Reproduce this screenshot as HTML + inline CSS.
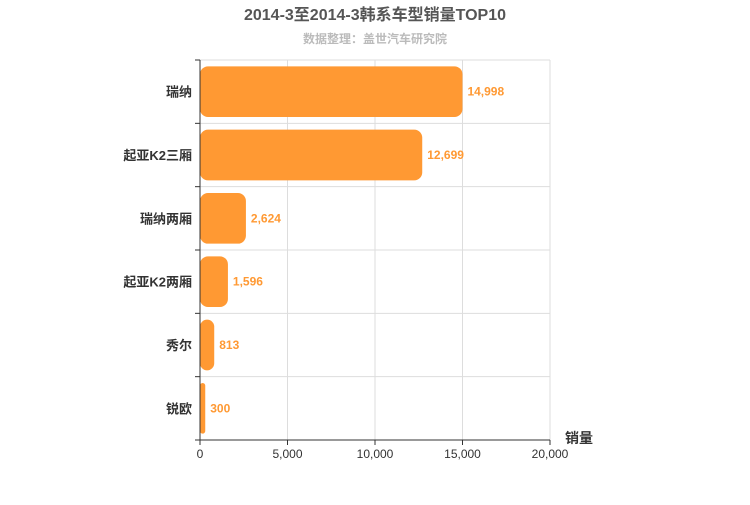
<!DOCTYPE html>
<html><head><meta charset="utf-8"><style>
body{margin:0;background:#fff;}
svg text{font-family:"Liberation Sans","Noto Sans CJK SC",sans-serif;}
</style></head><body>
<svg id="chart" width="750" height="500" viewBox="0 0 750 500">
<text x="375" y="20" text-anchor="middle" font-size="16" font-weight="bold" fill="#555">2014-3至2014-3韩系车型销量TOP10</text>
<text x="375" y="43" text-anchor="middle" font-size="12" font-weight="bold" fill="#bbb">数据整理：盖世汽车研究院</text>
<g id="grid"></g><g id="bars"></g><g id="axes"></g>
<text x="565" y="443" font-size="14" font-weight="bold" fill="#333">销量</text>
</svg>
<script>
const categories=["瑞纳","起亚K2三厢","瑞纳两厢","起亚K2两厢","秀尔","锐欧"];
const values=[14998,12699,2624,1596,813,300];
const ticks=[0,5000,10000,15000,20000];
const tickLabels=["0","5,000","10,000","15,000","20,000"];
const NS="http://www.w3.org/2000/svg";
const X0=200,X1=550,Y0=60,Y1=440,XMAX=20000;
const xs=v=>X0+(v/XMAX)*(X1-X0);
const band=(Y1-Y0)/categories.length;
const ys=i=>Y0+i*band;
function mk(tag,attrs,parent){const e=document.createElementNS(NS,tag);for(const k in attrs)e.setAttribute(k,attrs[k]);parent.appendChild(e);return e;}
const grid=document.getElementById('grid'),bars=document.getElementById('bars'),axes=document.getElementById('axes');
ticks.forEach((t,i)=>{
  const l=mk('line',{x1:xs(t),x2:xs(t),y1:Y0,y2:Y1,stroke:'#ddd'},grid);
  
  
  const tm=mk('line',{x1:xs(t),x2:xs(t),y1:Y1,y2:Y1+5,stroke:'#333'},axes);
  
  
  const tx=mk('text',{x:xs(t),y:Y1+18,'text-anchor':'middle','font-size':12,fill:'#333'},axes);
  tx.textContent=tickLabels[i];
  
  
});
for(let i=0;i<=categories.length;i++){
  const l=mk('line',{x1:X0,x2:X1,y1:ys(i),y2:ys(i),stroke:'#ddd'},grid);
  
  
  const tm=mk('line',{x1:X0-5,x2:X0,y1:ys(i),y2:ys(i),stroke:'#333'},axes);
  
  
}
const ax=mk('line',{x1:X0,x2:X0,y1:Y0,y2:Y1,stroke:'#333'},axes);


const bx=mk('line',{x1:X0,x2:X1,y1:Y1,y2:Y1,stroke:'#333'},axes);


categories.forEach((c,i)=>{
  const cy=ys(i)+band/2,h=band*0.8;
  const w=Math.max(xs(values[i])-X0,1);
  const r=mk('rect',{x:X0,y:cy-h/2,width:w,height:h,rx:Math.min(8,w/2),fill:'#ff9933'},bars);
  
  
  const v=mk('text',{x:xs(values[i])+5,y:cy+4,'font-size':12,'font-weight':'bold',fill:'#ff9933'},bars);
  v.textContent=values[i].toLocaleString('en-US');
  
  
  const t=mk('text',{x:X0-8,y:cy+5,'text-anchor':'end','font-size':13,'font-weight':'bold',fill:'#333'},axes);
  t.textContent=c;
  
  
});
</script>
</body></html>
